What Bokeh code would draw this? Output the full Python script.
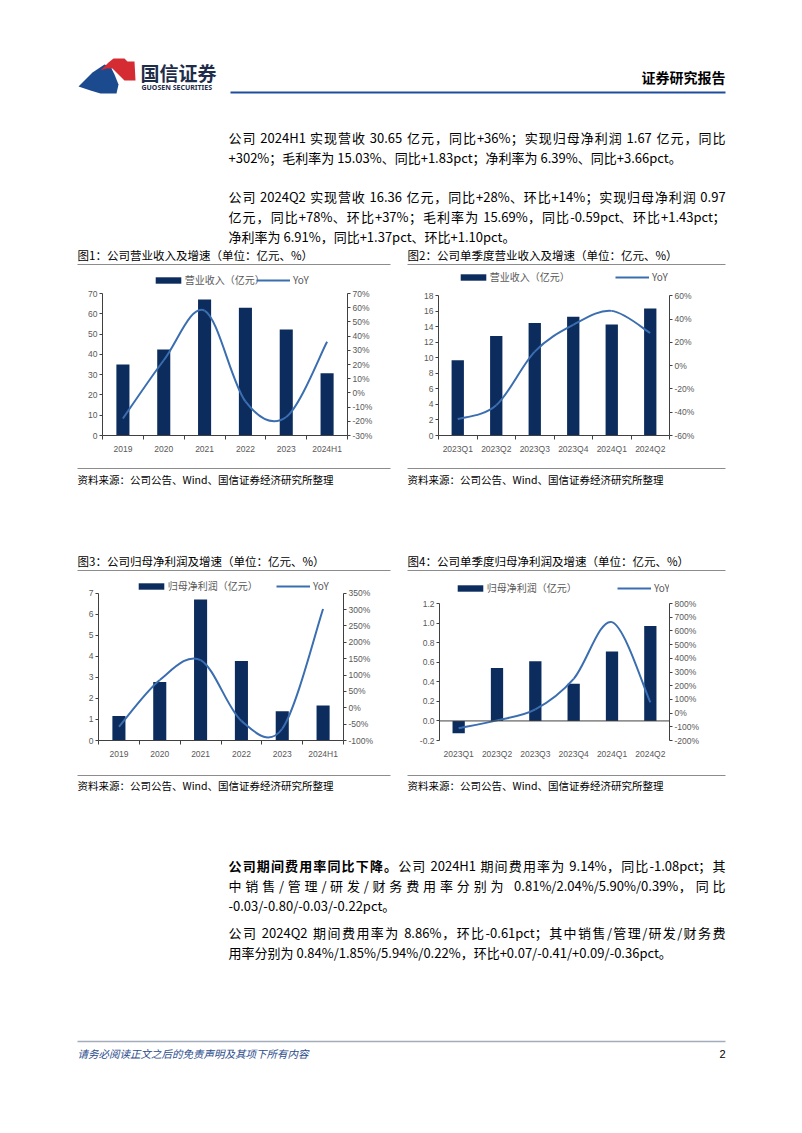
import re
from bokeh.plotting import figure
from bokeh.models import (Range1d, LinearAxis, FixedTicker, PrintfTickFormatter,
                          Legend, LegendItem, ColumnDataSource, Span)
from bokeh.layouts import column, row
from bokeh.embed import file_html
from bokeh.resources import INLINE
from bokeh.core.properties import value

# ---------------- data ----------------
years = ["2019", "2020", "2021", "2022", "2023", "2024H1"]
quarters = ["2023Q1", "2023Q2", "2023Q3", "2023Q4", "2024Q1", "2024Q2"]

revenue_annual = [35.0, 42.4, 67.0, 63.0, 52.3, 30.65]          # 亿元
revenue_annual_yoy = [-18, 23, 58, -6, -17, 36]                  # %
revenue_quarter = [9.7, 12.8, 14.5, 15.3, 14.3, 16.36]
revenue_quarter_yoy = [-46, -34, 12, 35, 47, 28]
profit_annual = [1.16, 2.78, 6.70, 3.78, 1.39, 1.67]
profit_annual_yoy = [-58, 85, 146, -40, -64, 302]
profit_quarter = [-0.126, 0.54, 0.61, 0.38, 0.71, 0.97]
profit_quarter_yoy = [-110, -53, 27, 250, 664, 78]

c1_left_ticks = [0, 10, 20, 30, 40, 50, 60, 70]
c1_right_ticks = [-30, -20, -10, 0, 10, 20, 30, 40, 50, 60, 70]
c2_left_ticks = [0, 2, 4, 6, 8, 10, 12, 14, 16, 18]
c2_right_ticks = [-60, -40, -20, 0, 20, 40, 60]
c3_left_ticks = [0, 1, 2, 3, 4, 5, 6, 7]
c3_right_ticks = [-100, -50, 0, 50, 100, 150, 200, 250, 300, 350]
c4_left_ticks = [-0.2, 0.0, 0.2, 0.4, 0.6, 0.8, 1.0, 1.2]
c4_right_ticks = [-200, -100, 0, 100, 200, 300, 400, 500, 600, 700, 800]

label_revenue = "营业收入（亿元）"
label_profit = "归母净利润（亿元）"
label_yoy = "YoY"

title1 = "图1：公司营业收入及增速（单位：亿元、%）"
title2 = "图2：公司单季度营业收入及增速（单位：亿元、%）"
title3 = "图3：公司归母净利润及增速（单位：亿元、%）"
title4 = "图4：公司单季度归母净利润及增速（单位：亿元、%）"
source_text = "资料来源：公司公告、Wind、国信证券经济研究所整理"

para1 = [
    ([("公司 2024H1 实现营收 30.65 亿元，同比+36%；实现归母净利润 1.67 亿元，同比", False)], True),
    ([("+302%；毛利率为 15.03%、同比+1.83pct；净利率为 6.39%、同比+3.66pct。", False)], False),
]
para2 = [
    ([("公司 2024Q2 实现营收 16.36 亿元，同比+28%、环比+14%；实现归母净利润 0.97", False)], True),
    ([("亿元，同比+78%、环比+37%；毛利率为 15.69%，同比-0.59pct、环比+1.43pct；", False)], True),
    ([("净利率为 6.91%，同比+1.37pct、环比+1.10pct。", False)], False),
]
para3 = [
    ([("公司期间费用率同比下降。", True), ("公司 2024H1 期间费用率为 9.14%，同比-1.08pct；其", False)], True),
    ([("中销售/管理/研发/财务费用率分别为 0.81%/2.04%/5.90%/0.39%，同比", False)], True),
    ([("-0.03/-0.80/-0.03/-0.22pct。", False)], False),
]
para4 = [
    ([("公司 2024Q2 期间费用率为 8.86%，环比-0.61pct；其中销售/管理/研发/财务费", False)], True),
    ([("用率分别为 0.84%/1.85%/5.94%/0.22%，环比+0.07/-0.41/+0.09/-0.36pct。", False)], False),
]

# ---------------- style ----------------
CJK = "Noto Sans CJK SC"
LAT = "Liberation Sans"
BAR_C = "#0B2C5C"
LINE_C = "#3B6EB0"
AXIS_C = "#404040"
TICK_C = "#595959"
RULE_C = "#8C8C8C"
PAGE_W = 802


def smooth_bezier(ys):
    n = len(ys)
    xs = list(range(n))
    d = dict(x0=[], y0=[], x1=[], y1=[], cx0=[], cy0=[], cx1=[], cy1=[])
    for i in range(n - 1):
        im = max(i - 1, 0)
        ip = min(i + 2, n - 1)
        d["x0"].append(xs[i]); d["y0"].append(ys[i])
        d["x1"].append(xs[i + 1]); d["y1"].append(ys[i + 1])
        d["cx0"].append(xs[i] + (xs[i + 1] - xs[im]) / 6)
        d["cy0"].append(ys[i] + (ys[i + 1] - ys[im]) / 6)
        d["cx1"].append(xs[i + 1] - (xs[ip] - xs[i]) / 6)
        d["cy1"].append(ys[i + 1] - (ys[ip] - ys[i]) / 6)
    return d


def style_axis(ax):
    ax.axis_line_color = AXIS_C
    ax.major_tick_line_color = AXIS_C
    ax.major_label_text_font = LAT
    ax.major_label_text_font_size = "8.5px"
    ax.major_label_text_color = TICK_C


def make_chart(geom, cats, bars, yoy, lt, rt, lfmt, bar_label, zero_line=False):
    # geom: figure left/top/width/height (page px), frame left/right,
    # pixel rows of top and bottom ticks, legend swatch x's and centre y
    x0, y0, W, H, FL, FR, T, B, leg_bar_x, leg_line_x, leg_cy = geom
    n = len(cats)
    bl = FL - x0
    br = x0 + W - FR
    bb = y0 + H - B
    bt = 0
    # extend the ranges above the top tick so the legends sit inside the frame
    ext_px = T - (y0 + bt)
    l_end = lt[-1] + ext_px * (lt[-1] - lt[0]) / (B - T)
    r_end = rt[-1] + ext_px * (rt[-1] - rt[0]) / (B - T)

    p = figure(width=W, height=H, output_backend="svg", toolbar_location=None,
               x_range=Range1d(-0.5, n - 0.5), y_range=Range1d(lt[0], l_end),
               min_border_left=bl, min_border_right=br, min_border_top=bt,
               min_border_bottom=bb, background_fill_color="white",
               border_fill_color="white")
    p.outline_line_color = None
    p.xgrid.visible = False
    p.ygrid.visible = False
    p.extra_y_ranges = {"yoy": Range1d(rt[0], r_end)}

    src = ColumnDataSource(dict(x=list(range(n)), top=bars))
    bar_r = p.vbar(x="x", top="top", bottom=0, width=0.32, source=src,
                   fill_color=BAR_C, line_color=None)
    bz = ColumnDataSource(smooth_bezier(yoy))
    line_r = p.bezier(x0="x0", y0="y0", x1="x1", y1="y1", cx0="cx0", cy0="cy0",
                      cx1="cx1", cy1="cy1", source=bz, line_color=LINE_C,
                      line_width=2, y_range_name="yoy")

    xa = p.xaxis[0]
    xa.ticker = FixedTicker(ticks=list(range(n)),
                            minor_ticks=[i - 0.5 for i in range(n + 1)])
    xa.major_label_overrides = {i: c for i, c in enumerate(cats)}
    style_axis(xa)
    xa.major_tick_line_color = None
    xa.major_tick_out = 0
    xa.major_tick_in = 0
    xa.minor_tick_in = 0
    xa.minor_tick_out = 4
    xa.minor_tick_line_color = AXIS_C
    xa.major_label_standoff = 4
    if zero_line:
        xa.axis_line_color = None
        xa.minor_tick_line_color = None
        p.add_layout(Span(location=0, dimension="width", line_color=AXIS_C,
                          line_width=1))

    ya = p.yaxis[0]
    ya.ticker = FixedTicker(ticks=lt)
    ya.formatter = PrintfTickFormatter(format=lfmt)
    ya.bounds = (lt[0], lt[-1])
    style_axis(ya)
    ya.major_tick_in = 0
    ya.major_tick_out = 3
    ya.minor_tick_line_color = None
    ya.major_label_standoff = 2

    ra = LinearAxis(y_range_name="yoy", ticker=FixedTicker(ticks=rt),
                    formatter=PrintfTickFormatter(format="%d%%"),
                    bounds=(rt[0], rt[-1]))
    style_axis(ra)
    ra.major_tick_in = 0
    ra.major_tick_out = 3
    ra.minor_tick_line_color = None
    ra.major_label_standoff = 2
    p.add_layout(ra, "right")

    box_h = 12
    vy = B - (leg_cy + box_h / 2)
    common = dict(orientation="horizontal", border_line_color=None,
                  background_fill_alpha=0, padding=0, margin=0, spacing=0,
                  label_text_font=CJK, label_text_font_size="10px",
                  label_text_color=TICK_C, label_height=box_h)
    gw_bar = 32
    leg1 = Legend(items=[LegendItem(label=bar_label, renderers=[bar_r])],
                  location=(leg_bar_x - 0.1 * gw_bar - FL, vy),
                  glyph_width=gw_bar, glyph_height=8, label_standoff=1, **common)
    leg2 = Legend(items=[LegendItem(label=label_yoy, renderers=[line_r])],
                  location=(leg_line_x - FL, vy),
                  glyph_width=34, glyph_height=8, label_standoff=3, **common)
    p.add_layout(leg1)
    p.add_layout(leg2)
    return p


# ---------------- text canvases ----------------
def canvas(y_top, y_bot):
    p = figure(width=PAGE_W, height=y_bot - y_top, output_backend="svg",
               toolbar_location=None, x_range=Range1d(0, PAGE_W),
               y_range=Range1d(y_bot, y_top), x_axis_type=None,
               y_axis_type=None, min_border=0, background_fill_color="white",
               border_fill_color="white")
    p.outline_line_color = None
    return p


def txt(p, x, y, s, size, color="#000000", style="normal", align="left",
        font=CJK):
    p.text(x=[x], y=[y], text=[s], text_font=value(font),
           text_font_size=value(f"{size}px"), text_color=color,
           text_align=align, text_baseline="middle", text_font_style=style)


def rule(p, x0, x1, y, color=RULE_C, width=1):
    p.segment(x0=[x0], y0=[y], x1=[x1], y1=[y], line_color=color,
              line_width=width)


EM = {c: 0.553 for c in "0123456789+"}
EM.update({".": 0.276, ",": 0.276, "%": 0.88, "-": 0.345, "/": 0.37,
           "H": 0.68, "Q": 0.73, "p": 0.57, "c": 0.47, "t": 0.35, " ": 0.224})


def tok_width(t, size):
    if ord(t[0]) > 127:
        return size * len(t)
    return size * sum(EM.get(c, 0.55) for c in t)


def para_line(p, y, segments, justify, size=13, x0=228, x1=725):
    if not justify:
        x = x0
        for s, bold in segments:
            txt(p, x, y, s, size, style="bold" if bold else "normal")
            x += sum(tok_width(t, size) for t in re.findall(r"[!-~]+| +|.", s))
        return
    toks = []
    for s, bold in segments:
        for t in re.findall(r"[!-~]+| +|.", s):
            toks.append((t, bold, tok_width(t, size)))
    natural = sum(w for _, _, w in toks)
    extra = (x1 - x0 - natural) / max(len(toks) - 1, 1)
    xs = {True: [], False: []}
    ts = {True: [], False: []}
    x = x0
    for t, bold, w in toks:
        if t.strip():
            xs[bold].append(x)
            ts[bold].append(t)
        x += w + extra
    for bold in (False, True):
        if ts[bold]:
            p.text(x=xs[bold], y=[y] * len(ts[bold]), text=ts[bold],
                   text_font=value(CJK), text_font_size=value(f"{size}px"),
                   text_color="#000000", text_align="left",
                   text_baseline="middle",
                   text_font_style="bold" if bold else "normal")


def paragraph(p, y_first, lines, step=20):
    for i, (segs, just) in enumerate(lines):
        para_line(p, y_first + i * step, segs, just)


# ---- top block (y 0..270) ----
top = canvas(0, 270)
top.patches(xs=[[78, 92, 104, 110, 114, 118, 116, 100, 90],
                [100, 108, 113, 124, 127, 134, 135, 124, 118, 112, 106]],
            ys=[[86, 72, 64, 66, 74, 84, 93, 93, 90],
                [70, 62, 58, 58, 61, 61, 80, 80, 74, 68, 68]],
            fill_color=["#1B4A8E", "#D52B33"], line_color=None)
txt(top, 140, 72, "国信证券", 19, color="#1E2D4A", style="bold")
txt(top, 141, 87, "GUOSEN SECURITIES", 7, color="#1E2D4A", style="bold",
    font="Noto Sans")
txt(top, 725, 76, "证券研究报告", 14, style="bold", align="right")
rule(top, 230, 725, 92, color="#1E4D9B", width=2)
paragraph(top, 137, para1)
paragraph(top, 196, para2)
txt(top, 77, 254, title1, 11.5)
txt(top, 407, 254, title2, 11.5)
rule(top, 77, 390, 264)
rule(top, 407, 725, 264)

# ---- chart row 1 (y 270..462) ----
c1 = make_chart((0, 270, 400, 192, 102, 347, 293, 435, 155, 256, 281),
                years, revenue_annual, revenue_annual_yoy,
                c1_left_ticks, c1_right_ticks, "%d", label_revenue)
c2 = make_chart((400, 270, 402, 192, 438, 669, 296, 440, 460, 615, 283),
                quarters, revenue_quarter, revenue_quarter_yoy,
                c2_left_ticks, c2_right_ticks, "%d", label_revenue)

# ---- middle block (y 462..575) ----
mid = canvas(462, 575)
rule(mid, 77, 390, 468)
rule(mid, 407, 725, 468)
txt(mid, 77, 479, source_text, 10.5)
txt(mid, 407, 479, source_text, 10.5)
txt(mid, 77, 560, title3, 11.5)
txt(mid, 407, 560, title4, 11.5)
rule(mid, 77, 390, 570)
rule(mid, 407, 725, 570)

# ---- chart row 2 (y 575..765) ----
c3 = make_chart((0, 575, 400, 190, 98, 343, 593, 742, 138, 276, 589),
                years, profit_annual, profit_annual_yoy,
                c3_left_ticks, c3_right_ticks, "%d", label_profit)
c4 = make_chart((400, 575, 402, 190, 439, 669, 603, 740, 457, 617, 589),
                quarters, profit_quarter, profit_quarter_yoy,
                c4_left_ticks, c4_right_ticks, "%.1f", label_profit,
                zero_line=True)

# ---- bottom block (y 765..1100) ----
bot = canvas(765, 1100)
rule(bot, 77, 390, 775)
rule(bot, 407, 725, 775)
txt(bot, 77, 785, source_text, 10.5)
txt(bot, 407, 785, source_text, 10.5)
paragraph(bot, 865, para3)
paragraph(bot, 932, para4)
rule(bot, 77, 725, 1041, color="#A3ACBA", width=1.5)
txt(bot, 77, 1053, "请务必阅读正文之后的免责声明及其项下所有内容", 10.5,
    color="#2B4C8C", style="italic")
txt(bot, 725, 1053, "2", 11, align="right", font=LAT)

layout = column(top, row(c1, c2, spacing=0), mid, row(c3, c4, spacing=0), bot,
                spacing=0)
open("out.html", "w").write(file_html(layout, INLINE, "report"))
